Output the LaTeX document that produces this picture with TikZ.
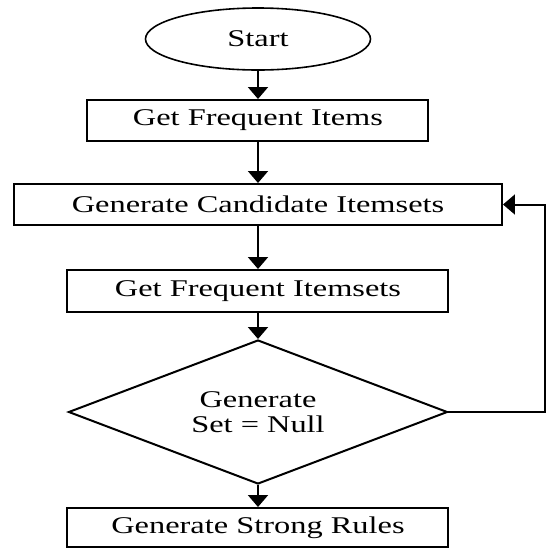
\documentclass[tikz,border=0pt]{standalone}
\usepackage{fontspec}
\setmainfont{Liberation Serif}[FakeStretch=1.35]
\usepackage{tikz}
\usetikzlibrary{arrows.meta,shapes.geometric}
\tikzset{
  procbox/.style={draw=black,line width=1pt,rectangle,align=center,inner sep=0pt,font=\fontsize{12}{12.5}\selectfont},
  startnode/.style={procbox,ellipse,line width=0.8pt},
  decide/.style={procbox,diamond,aspect=2.6},
  flow/.style={-{Triangle[length=6pt,width=10pt]},line width=1pt,draw=black}
}
\begin{document}
\begin{tikzpicture}[x=0.5pt,y=-0.5pt]
  \useasboundingbox (0,0) rectangle (548,548);
  % steps
  \node[startnode,minimum width=112.5pt,minimum height=31pt] (start) at (258,39) {Start};
  \node[procbox,minimum width=170.5pt,minimum height=20.5pt] (items) at (258,120.5) {Get Frequent Items};
  \node[procbox,minimum width=244pt,minimum height=20.5pt] (cand) at (258,204.5) {Generate Candidate Itemsets};
  \node[procbox,minimum width=190.5pt,minimum height=21pt] (itemsets) at (258,291) {Get Frequent Itemsets};
  \node[decide,minimum width=189.5pt,minimum height=72pt] (check) at (258,412) {Generate\\Set = Null};
  \node[procbox,minimum width=190.5pt,minimum height=19.5pt] (rules) at (258,527.5) {Generate Strong Rules};
  % arrows
  \draw[flow] (start.south) -- (items.north);
  \draw[flow] (items.south) -- (cand.north);
  \draw[flow] (cand.south) -- (itemsets.north);
  \draw[flow] (itemsets.south) -- (check.north);
  \draw[flow] (check.south) -- (rules.north);
  % loop back
  \coordinate (back) at (545,412);
  \draw[flow] (check.east) -- (back) |- (cand.east);
\end{tikzpicture}
\end{document}
